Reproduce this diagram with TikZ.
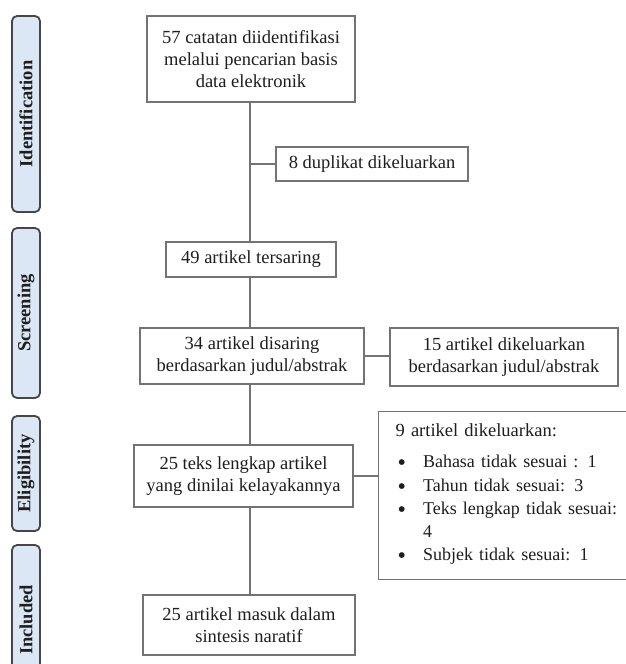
\documentclass[tikz,border=0pt]{standalone}
\usepackage{fontspec}
\setmainfont{Liberation Serif}
\usetikzlibrary{calc}
\definecolor{boxline}{RGB}{115,115,115}
\definecolor{phasefill}{RGB}{220,231,245}
\definecolor{phaseline}{RGB}{70,70,70}
\definecolor{txt}{RGB}{30,30,30}
\newcommand{\bigdot}{\smash{\raisebox{-3pt}{\fontsize{24}{20}\selectfont\textbullet}}}
\tikzset{
	flowbox/.style={draw=boxline, line width=1.2pt, fill=white, align=center, text=txt,
		inner sep=0pt, font=\fontsize{18.5}{22}\selectfont},
	phasebox/.style={draw=phaseline, line width=1.8pt, fill=phasefill, rounded corners=5pt,
		rotate=90, minimum height=28pt, inner sep=0pt, text=txt,
		font=\fontsize{18.5}{20}\selectfont\bfseries},
	link/.style={draw=boxline, line width=1.2pt}
}

\begin{document}
\begin{tikzpicture}[x=1pt,y=-1pt]
	\useasboundingbox (0,0) rectangle (625,664);
	%phase labels (left column)
	\node[phasebox, minimum width=196pt] (ident)  at (26,114)   {Identification};
	\node[phasebox, minimum width=170pt] (screen) at (26,313)   {Screening};
	\node[phasebox, minimum width=115pt] (elig)   at (26,473.5) {Eligibility};
	\node[phasebox, minimum width=150pt] (incl)   at (26,620)   {Included};
	
	%main column
	\coordinate (spine) at (250,0);
	\node[flowbox, minimum width=208pt, minimum height=86pt] (b57) at (251,59)
		{57 catatan diidentifikasi\\melalui pencarian basis\\data elektronik};
	\node[flowbox, minimum width=170pt, minimum height=35pt] (b49) at (251,259.5)
		{49 artikel tersaring};
	\node[flowbox, minimum width=224pt, minimum height=56pt] (b34) at (252,356)
		{34 artikel disaring\\berdasarkan judul/abstrak};
	\node[flowbox, minimum width=219pt, minimum height=62pt] (b25t) at (243.5,476)
		{25 teks lengkap artikel\\yang dinilai kelayakannya};
	\node[flowbox, minimum width=212pt, minimum height=60pt] (b25m) at (249,625)
		{25 artikel masuk dalam\\sintesis naratif};
	
	%side boxes
	\node[flowbox, minimum width=192pt, minimum height=34pt] (bdup) at (372,164)
		{8 duplikat dikeluarkan};
	\node[flowbox, minimum width=228pt, minimum height=58pt] (b15) at (504,357)
		{15 artikel dikeluarkan\\berdasarkan judul/abstrak};
	\node[flowbox, anchor=north west, align=left, text width=236pt, minimum height=168pt,
		inner xsep=17pt] (b9) at (378,411)
		{9 artikel dikeluarkan:\\[14pt]
		\fontsize{18}{23.3}\selectfont
		\begin{tabular}{@{\hspace{2pt}}l@{\hspace{17pt}}l@{}}
			\bigdot & Bahasa tidak sesuai : 1\\
			\bigdot & Tahun tidak sesuai: 3\\
			\bigdot & Teks lengkap tidak sesuai:\\
			        & 4\\
			\bigdot & Subjek tidak sesuai: 1
		\end{tabular}};
	
	%vertical spine
	\draw[link] (b57.south -| spine) -- (b49.north -| spine);
	\draw[link] (b49.south -| spine) -- (b34.north -| spine);
	\draw[link] (b34.south -| spine) -- (b25t.north -| spine);
	\draw[link] (b25t.south -| spine) -- (b25m.north -| spine);
	
	%branches
	\draw[link] (spine |- bdup.west) -- (bdup.west);
	\draw[link] (b34.east) -- (b34.east -| b15.west);
	\draw[link] (b25t.east) -- (b25t.east -| b9.west);
\end{tikzpicture}
\end{document}
